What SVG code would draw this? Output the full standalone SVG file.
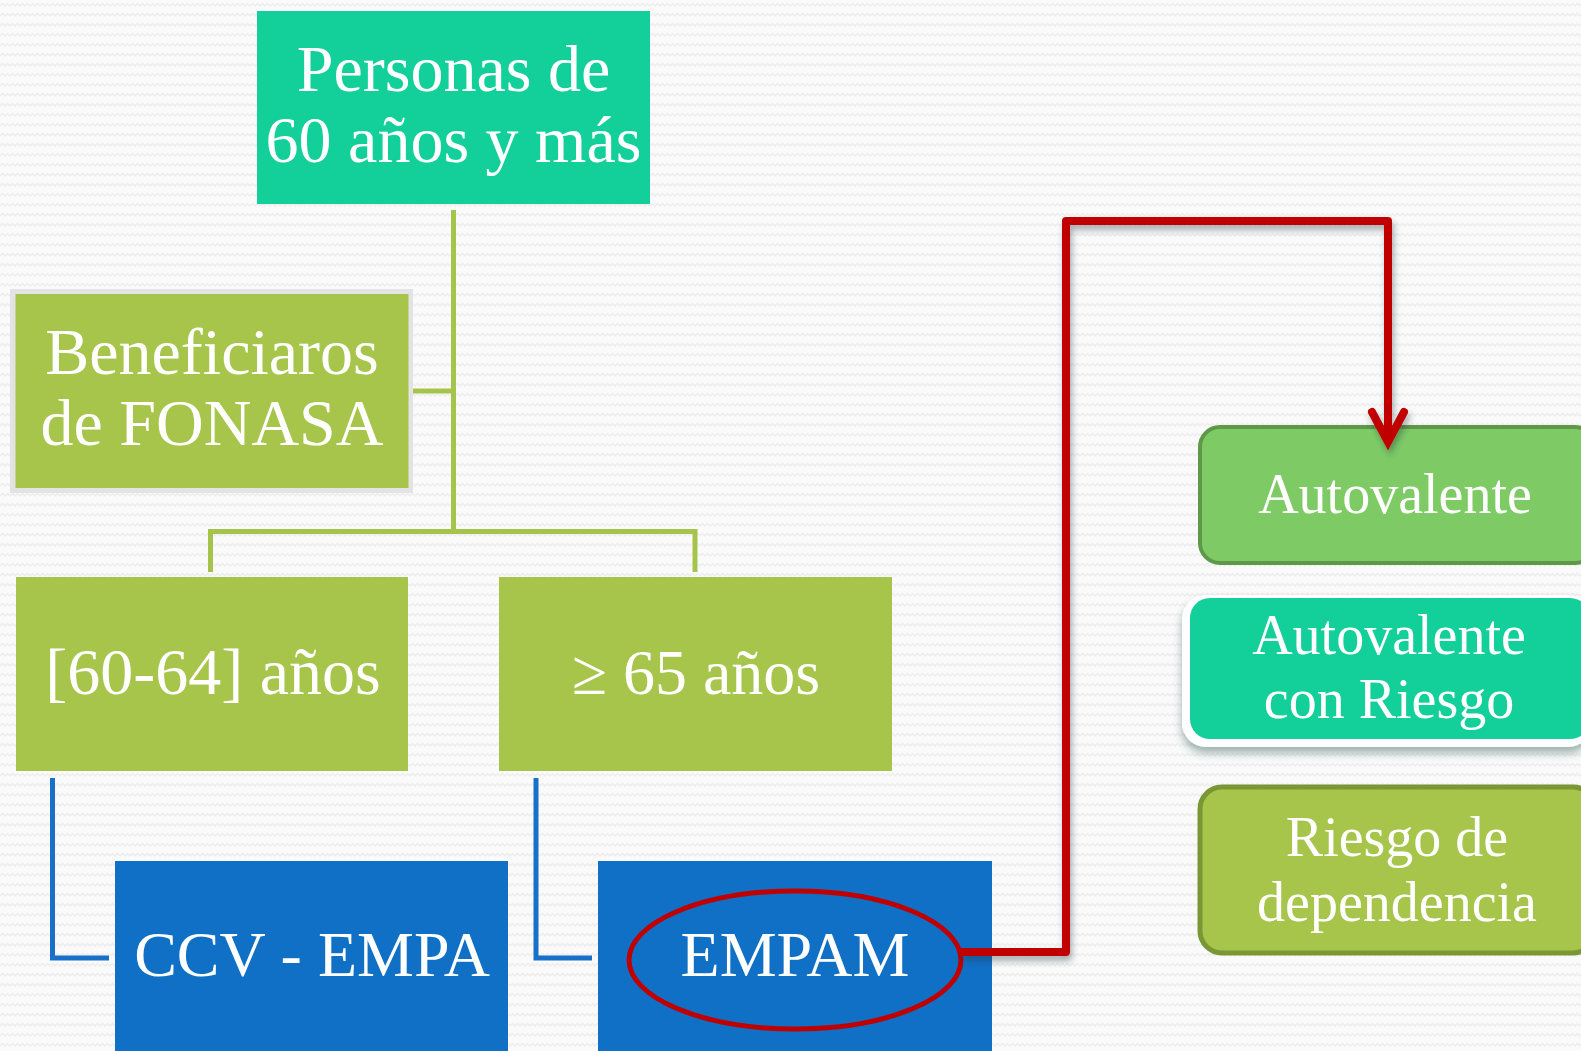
<svg xmlns="http://www.w3.org/2000/svg" width="1581" height="1051" viewBox="0 0 1581 1051">
<defs>
<pattern id="bg" width="10" height="10" patternUnits="userSpaceOnUse">
<rect width="10" height="10" fill="#fafafa"/>
<polyline points="0,6 2.5,3.5 5,6 7.5,3.5 10,6" fill="none" stroke="#ededed" stroke-width="1.4"/>
</pattern>
<filter id="shadow" x="-10%" y="-10%" width="130%" height="130%">
<feDropShadow dx="2" dy="5" stdDeviation="3" flood-color="#2a3a40" flood-opacity="0.4"/>
</filter>
<filter id="boxShadow" x="-10%" y="-10%" width="130%" height="140%">
<feDropShadow dx="0" dy="6" stdDeviation="4" flood-color="#2f5a4e" flood-opacity="0.45"/>
</filter>
<marker id="chev" markerUnits="userSpaceOnUse" markerWidth="60" markerHeight="60" refX="-6" refY="0" orient="auto" viewBox="-40 -30 60 60" overflow="visible">
<polyline points="-30,-16 0,0 -30,16" fill="none" stroke="#C00000" stroke-width="8" stroke-linecap="round" stroke-linejoin="miter"/>
</marker>
<style>
.t{font-family:"Liberation Serif","DejaVu Serif",serif;fill:#ffffff;text-anchor:middle}
.big{font-size:66px}
.mid{font-size:64px}
.sm{font-size:56px}
.g{fill:none;stroke:#A6C44B;stroke-width:5}
.b{fill:none;stroke:#1870C8;stroke-width:5}
.r{fill:none;stroke:#C00000;stroke-width:8;stroke-linejoin:round}
.green{fill:#A7C44B}
.blue{fill:#1070C6}
.teal{fill:#13CF9A}
</style>
</defs>
<rect width="1581" height="1051" fill="url(#bg)"/>

<g id="personas">
<rect class="teal" x="257" y="11" width="393" height="193"/>
<text class="t big" x="453.5" y="91">Personas de</text>
<text class="t big" x="453.5" y="162">60 años y más</text>
</g>

<g id="fonasa">
<rect x="10" y="289" width="403" height="204" fill="#e3e3e3"/>
<rect class="green" x="15.5" y="294" width="393" height="194"/>
<text class="t big" x="212" y="374">Beneficiaros</text>
<text class="t big" x="212" y="445">de FONASA</text>
</g>

<g id="edad6064">
<rect class="green" x="16" y="577" width="392" height="194"/>
<text class="t mid" x="213" y="694" style="font-size:66px">[60-64] años</text>
</g>

<g id="edad65">
<rect class="green" x="499" y="577" width="393" height="194"/>
<text class="t mid" x="696" y="694">≥ 65 años</text>
</g>

<g id="ccv">
<rect class="blue" x="115" y="861" width="393" height="190"/>
<text class="t mid" x="312" y="976">CCV - EMPA</text>
</g>

<g id="empam">
<rect class="blue" x="598" y="861" width="394" height="190"/>
<ellipse cx="795" cy="960" rx="166" ry="69" fill="none" stroke="#C00000" stroke-width="5"/>
<text class="t mid" x="795" y="976">EMPAM</text>
</g>

<g id="autovalente">
<rect x="1200" y="427" width="395" height="136" rx="20" fill="#7ECB66" stroke="#5E9848" stroke-width="4"/>
<text class="t sm" x="1395" y="513">Autovalente</text>
</g>

<g id="autovalenteRiesgo">
<rect x="1182" y="595" width="410" height="152" rx="24" fill="#ffffff" filter="url(#boxShadow)"/>
<rect class="teal" x="1190" y="598" width="400" height="141" rx="20"/>
<text class="t sm" x="1389" y="654">Autovalente</text>
<text class="t sm" x="1389" y="718">con Riesgo</text>
</g>

<g id="dependencia">
<rect x="1200" y="787" width="395" height="166" rx="22" fill="#A7C44B" stroke="#7A9735" stroke-width="5"/>
<text class="t sm" x="1397" y="856">Riesgo de</text>
<text class="t sm" x="1397" y="921">dependencia</text>
</g>

<g id="connectors">
<path class="g" d="M453.5,210 V531.5 M413,391 H453.5 M208,531.5 H697 M210.5,529 V572 M695,529 V572"/>
<path class="b" d="M52.5,778 V958 H109 M536,778 V958 H592"/>
<path class="r" filter="url(#shadow)" d="M961,952 H1066 V221 H1388 V436" marker-end="url(#chev)"/>
</g>
</svg>
